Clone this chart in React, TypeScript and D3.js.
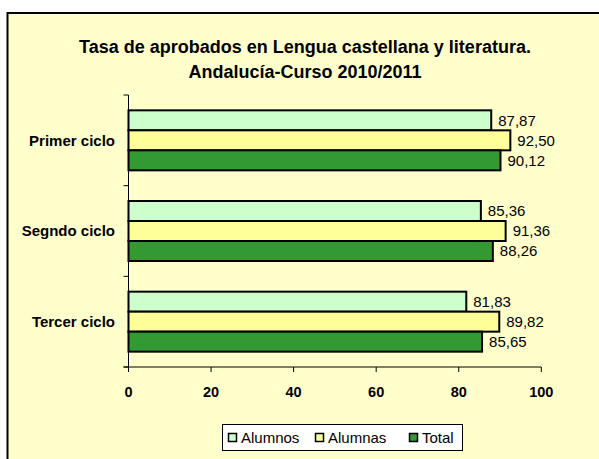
import React from "react";
import * as d3 from "d3";

const categories = ["Primer ciclo", "Segndo ciclo", "Tercer ciclo"];
const seriesNames = ["Alumnos", "Alumnas", "Total"];
const alumnos = [87.87, 85.36, 81.83];
const alumnas = [92.5, 91.36, 89.82];
const total = [90.12, 88.26, 85.65];
const xTicks = [0, 20, 40, 60, 80, 100];
const colors = ["#CCFFCC", "#FFFF99", "#339933"];

const W = 599;
const H = 459;
const FONT = "Arial, 'Liberation Sans', sans-serif";

export default function App() {
  const values = [alumnos, alumnas, total];
  const x = d3.scaleLinear().domain([0, 100]).range([128.5, 541.3]);
  const y = d3.scaleBand<string>().domain(categories).range([95, 367]).padding(0);
  const inner = d3
    .scaleBand<string>()
    .domain(seriesNames)
    .range([0, y.bandwidth()])
    .paddingInner(0)
    .paddingOuter(0.767);
  const fmt = (v: number) => v.toFixed(2).replace(".", ",");
  const yBoundaries = [...categories.map((c) => y(c)!), 367];

  return (
    <svg
      width={W}
      height={H}
      style={{ position: "absolute", left: 0, top: 0, background: "#fff" }}
      fontFamily={FONT}
    >
      <rect x={7.5} y={13} width={W + 10} height={H + 10} fill="#FFFFCC" stroke="#000" strokeWidth={2} />
      <text x={305} y={53} textAnchor="middle" fontWeight="bold" fontSize={18} fill="#000">
        Tasa de aprobados en Lengua castellana y literatura.
      </text>
      <text x={305} y={78} textAnchor="middle" fontWeight="bold" fontSize={18} fill="#000">
        Andalucía-Curso 2010/2011
      </text>

      {categories.map((c, ci) => (
        <g key={c}>
          {seriesNames.map((s, si) => {
            const v = values[si][ci];
            const by = y(c)! + inner(s)!;
            const bh = inner.bandwidth();
            return (
              <g key={s}>
                <rect
                  x={x(0)}
                  y={by}
                  width={x(v) - x(0)}
                  height={bh}
                  fill={colors[si]}
                  stroke="#000"
                  strokeWidth={2}
                />
                <text x={x(v) + 7} y={by + bh / 2} dy="0.36em" fontSize={15} fill="#000">
                  {fmt(v)}
                </text>
              </g>
            );
          })}
          <text
            x={115}
            y={y(c)! + y.bandwidth() / 2}
            dy="0.36em"
            textAnchor="end"
            fontWeight="bold"
            fontSize={15}
            fill="#000"
          >
            {c}
          </text>
        </g>
      ))}

      {/* y axis */}
      <line x1={x(0)} x2={x(0)} y1={95} y2={367} stroke="#000" strokeWidth={1} />
      {yBoundaries.map((b, i) => (
        <line key={i} x1={x(0) - 5} x2={x(0)} y1={b} y2={b} stroke="#000" strokeWidth={1} />
      ))}
      {/* x axis */}
      <line x1={x(0) - 5} x2={x(100)} y1={367} y2={367} stroke="#000" strokeWidth={1} />
      {xTicks.map((t) => (
        <g key={t}>
          <line x1={x(t)} x2={x(t)} y1={367} y2={372} stroke="#000" strokeWidth={1} />
          <text x={x(t)} y={397} textAnchor="middle" fontWeight="bold" fontSize={14.5} fill="#000">
            {t}
          </text>
        </g>
      ))}

      {/* legend */}
      <rect x={222.5} y={424.5} width={240} height={26} fill="#fff" stroke="#000" strokeWidth={1} />
      {seriesNames.map((s, i) => {
        const lx = [228, 315, 409][i];
        return (
          <g key={s}>
            <rect x={lx + 0.5} y={433.5} width={8} height={8} fill={colors[i]} stroke="#000" strokeWidth={1.5} />
            <text x={lx + 13} y={443} fontSize={15} fill="#000">
              {s}
            </text>
          </g>
        );
      })}
    </svg>
  );
}
